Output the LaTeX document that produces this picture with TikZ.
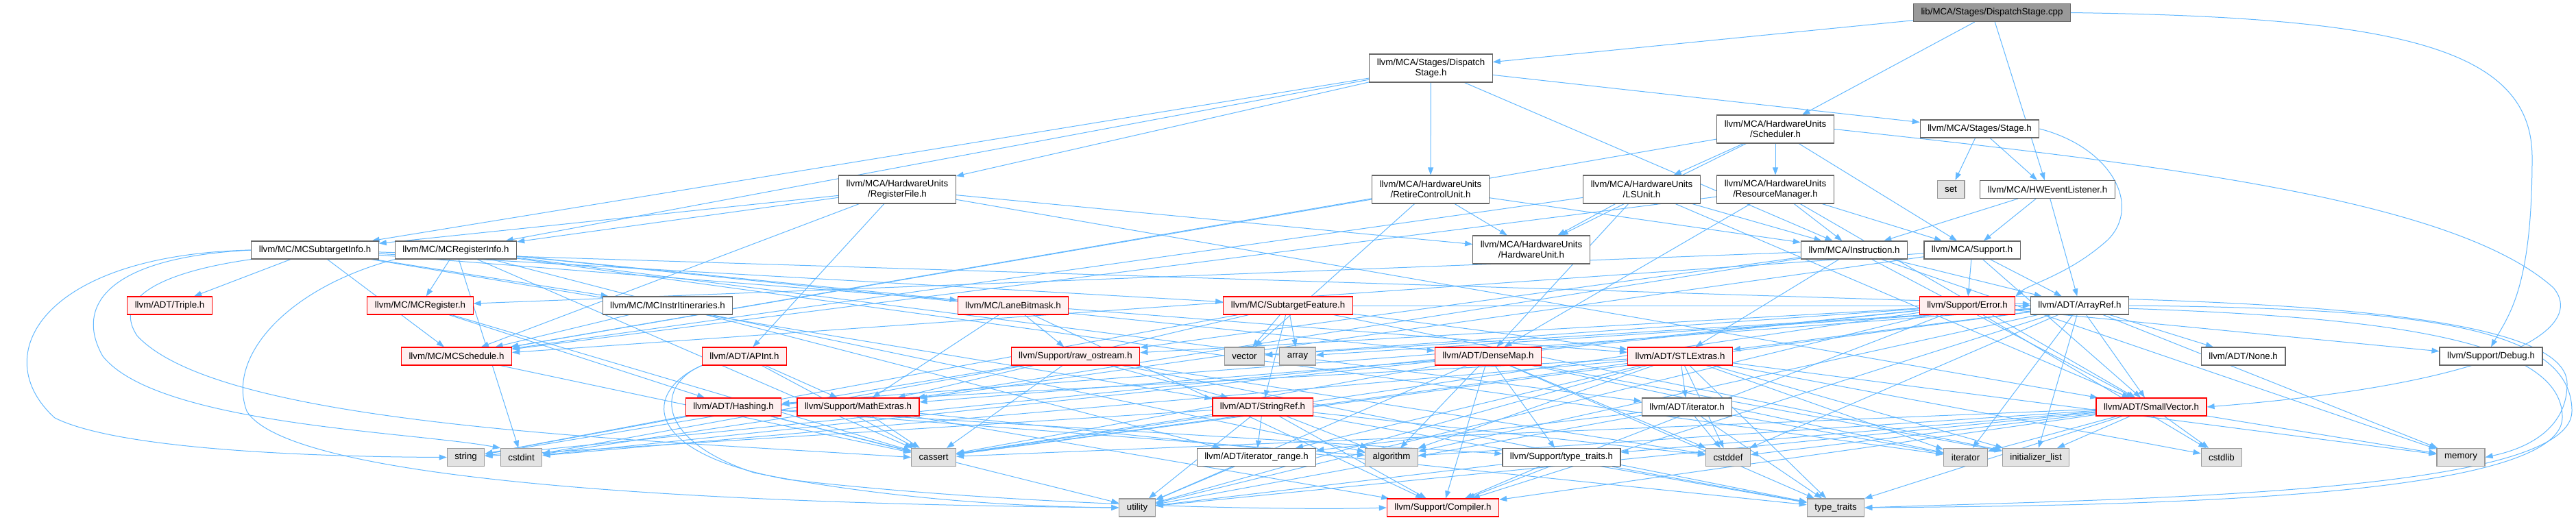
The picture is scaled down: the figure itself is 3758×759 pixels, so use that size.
\documentclass[tikz,border=0pt]{standalone}
\usepackage{fontspec}
\setmainfont{Liberation Sans}
\usetikzlibrary{arrows.meta}
\definecolor{edgeblue}{HTML}{63B8FF}
\definecolor{gfortyc}{HTML}{666666}
\definecolor{gsixtyc}{HTML}{999999}
\definecolor{geightyninec}{HTML}{E3E3E3}
\definecolor{redfillc}{HTML}{FFF0F0}
\pgfdeclarelayer{bg}
\pgfsetlayers{bg,main}
\begin{document}
\begin{tikzpicture}[x=1pt,y=-1pt,
  basebox/.style={draw, rectangle, inner xsep=11pt, inner ysep=2pt, minimum height=26pt,
    font=\fontsize{13.3}{15}\selectfont, line width=1.2pt, align=center, text=black},
  wn/.style={basebox, draw=gfortyc, fill=white},
  rn/.style={basebox, draw=red, fill=redfillc},
  sn/.style={basebox, draw=gsixtyc, fill=geightyninec},
  rootn/.style={basebox, draw=gfortyc, fill=gsixtyc},
  twoline/.style={minimum height=41pt},
  edge/.style={draw=edgeblue, line width=1pt, -{Triangle[length=11pt,width=8pt]}}
]
\useasboundingbox (0,0) rectangle (3758,759);

% rank 0
\node[rootn] (cpp) at (2906,18.5) {lib/MCA/Stages/DispatchStage.cpp};
% rank 1
\node[wn,twoline] (dsh) at (2087.5,99.5) {llvm/MCA/Stages/Dispatch\\Stage.h};
% rank 2
\node[wn,twoline] (sched) at (2590,188.5) {llvm/MCA/HardwareUnits\\/Scheduler.h};
\node[wn] (stage) at (2888,188) {llvm/MCA/Stages/Stage.h};
% rank 3
\node[wn,twoline] (rf) at (1309,276.5) {llvm/MCA/HardwareUnits\\/RegisterFile.h};
\node[wn,twoline] (rcu) at (2087,276.5) {llvm/MCA/HardwareUnits\\/RetireControlUnit.h};
\node[wn,twoline] (lsu) at (2395,276.5) {llvm/MCA/HardwareUnits\\/LSUnit.h};
\node[wn,twoline] (rm) at (2590,276.5) {llvm/MCA/HardwareUnits\\/ResourceManager.h};
\node[sn] (set) at (2846,276.5) {set};
\node[wn] (hwel) at (2987,276.5) {llvm/MCA/HWEventListener.h};
% rank 4
\node[wn] (msti) at (459.5,365) {llvm/MC/MCSubtargetInfo.h};
\node[wn] (mri) at (665,365) {llvm/MC/MCRegisterInfo.h};
\node[wn,twoline] (hwu) at (2234,364.5) {llvm/MCA/HardwareUnits\\/HardwareUnit.h};
\node[wn] (inst) at (2705,365) {llvm/MCA/Instruction.h};
\node[wn] (sup) at (2877,365) {llvm/MCA/Support.h};
% rank 5
\node[rn] (triple) at (247.5,446) {llvm/ADT/Triple.h};
\node[rn] (mreg) at (613,446) {llvm/MC/MCRegister.h};
\node[wn] (mii) at (974,446) {llvm/MC/MCInstrItineraries.h};
\node[rn] (lane) at (1478,446) {llvm/MC/LaneBitmask.h};
\node[rn] (stf) at (1879,446) {llvm/MC/SubtargetFeature.h};
\node[rn] (error) at (2870,446) {llvm/Support/Error.h};
\node[wn] (aref) at (3034,446) {llvm/ADT/ArrayRef.h};
% rank 6
\node[rn] (msch) at (666,520) {llvm/MC/MCSchedule.h};
\node[rn] (apint) at (1086,520) {llvm/ADT/APInt.h};
\node[rn] (raw) at (1569,520) {llvm/Support/raw\_ostream.h};
\node[sn] (vector) at (1815.5,520) {vector};
\node[sn] (array) at (1893,520) {array};
\node[rn] (dmap) at (2171,520) {llvm/ADT/DenseMap.h};
\node[rn] (stl) at (2451,520) {llvm/ADT/STLExtras.h};
\node[wn] (none) at (3272.6,520) {llvm/ADT/None.h};
\node[wn] (debug) at (3634,520) {llvm/Support/Debug.h};
% rank 7
\node[rn] (hash) at (1070,594) {llvm/ADT/Hashing.h};
\node[rn] (mathx) at (1252,594) {llvm/Support/MathExtras.h};
\node[rn] (sref) at (1842,594) {llvm/ADT/StringRef.h};
\node[wn] (iterh) at (2461,594) {llvm/ADT/iterator.h};
\node[rn] (svec) at (3138.5,594) {llvm/ADT/SmallVector.h};
% rank 8
\node[sn] (string) at (679.6,667.5) {string};
\node[sn] (cstdint) at (760.6,667.5) {cstdint};
\node[sn] (cassert) at (1362,667.5) {cassert};
\node[wn] (itr) at (1833,667.5) {llvm/ADT/iterator\_range.h};
\node[sn] (algorithm) at (2030,667.5) {algorithm};
\node[wn] (stt) at (2278,667.5) {llvm/Support/type\_traits.h};
\node[sn] (cstddef) at (2521,667.5) {cstddef};
\node[sn] (iterator) at (2867.5,667.5) {iterator};
\node[sn] (initl) at (2970,667.5) {initializer\_list};
\node[sn] (cstdlib) at (3241,667.5) {cstdlib};
\node[sn] (memory) at (3590,667.5) {memory};
% rank 9
\node[sn] (utility) at (1659,741) {utility};
\node[rn] (compiler) at (2105,741) {llvm/Support/Compiler.h};
\node[sn] (tt) at (2678,741) {type\_traits};

\begin{pgfonlayer}{bg}
\foreach \s/\t in {cpp/dsh, cpp/sched, cpp/hwel,
  dsh/msti, dsh/mri, dsh/rf, dsh/rcu, dsh/inst, dsh/stage,
  sched/msch, sched/hwu, sched/lsu, sched/rm, sched/sup,
  stage/hwel, stage/set,
  hwel/aref, hwel/inst, hwel/sup,
  rm/dmap, rm/svec, rm/msch, rm/inst, rm/sup,
  inst/aref, inst/stl, inst/svec, inst/mreg, inst/mathx, inst/raw, inst/memory,
  sup/aref, sup/svec, sup/msch, sup/error, sup/mathx,
  rcu/msch, rcu/hwu, rcu/inst, rcu/vector,
  lsu/dmap, lsu/svec, lsu/msch, lsu/hwu, lsu/inst,
  rf/apint, rf/svec, rf/mri, rf/msch, rf/msti, rf/hwu,
  msti/aref, msti/stl, msti/sref, msti/triple, msti/mii, msti/msch, msti/stf,
  mri/dmap, mri/iterh, mri/itr, mri/lane, mri/mreg, mri/cassert, mri/cstdint, mri/iterator,
  mreg/hash, mreg/cassert,
  mii/msch, mii/algorithm,
  msch/cassert,
  lane/compiler, lane/mathx, lane/raw,
  stf/aref, stf/stl, stf/sref, stf/mathx, stf/array, stf/initl, stf/string, stf/vector,
  apint/mathx, apint/cassert,
  hash/stt, hash/algorithm, hash/cassert, hash/string, hash/utility,
  mathx/compiler, mathx/cassert, mathx/cstdint, mathx/tt,
  raw/sref, raw/cassert, raw/cstddef, raw/cstdint, raw/string, raw/tt,
  sref/itr, sref/compiler, sref/algorithm, sref/cassert, sref/cstddef, sref/string, sref/tt, sref/utility,
  itr/utility,
  dmap/compiler, dmap/mathx, dmap/stt, dmap/algorithm, dmap/cassert, dmap/cstddef, dmap/initl, dmap/iterator, dmap/tt, dmap/utility,
  stl/hash, stl/iterh, stl/itr, stl/algorithm, stl/cassert, stl/cstddef, stl/cstdint, stl/cstdlib, stl/initl, stl/iterator, stl/memory, stl/tt, stl/utility,
  iterh/itr, iterh/cstddef, iterh/iterator, iterh/tt, iterh/utility,
  stt/compiler, stt/tt, stt/utility,
  error/compiler, error/debug, error/raw, error/cassert, error/cstdint, error/cstdlib, error/string, error/utility, error/vector,
  aref/hash, aref/none, aref/stl, aref/svec, aref/compiler, aref/algorithm, aref/array, aref/cassert, aref/cstddef, aref/initl, aref/iterator, aref/memory, aref/vector,
  svec/compiler, svec/stt, svec/algorithm, svec/cassert, svec/cstddef, svec/cstdlib, svec/initl, svec/iterator, svec/memory, svec/tt, svec/utility}
  {\draw[edge] (\s) -- (\t);}
% routed connectors
\draw[edge] (cpp.east) .. controls (3500,25) and (3694,70) .. (3694,230) .. controls (3694,420) and (3660,460) .. (debug.north);
\draw[edge] (sched.east) .. controls (3150,240) and (3580,290) .. (3725,420) .. controls (3775,480) and (3650,560) .. (svec.east);
\draw[edge] (stage.east) .. controls (3080,215) and (3125,300) .. (3075,350) .. controls (3020,400) and (2960,415) .. (error.north east);
\draw[edge] (msti.west) .. controls (60,372) and (-20,520) .. (80,610) .. controls (180,660) and (500,667) .. (string.west);
\draw[edge] (msti.west) .. controls (150,376) and (110,450) .. (150,520) .. controls (230,620) and (600,630) .. (cstdint.north west);
\draw[edge] (msti.south west) .. controls (250,395) and (160,430) .. (200,490) .. controls (320,620) and (900,640) .. (cassert.west);
\draw[edge] (mri.south west) .. controls (420,420) and (330,520) .. (360,600) .. controls (420,700) and (1000,735) .. (utility.west);
\draw[edge] (apint.south west) .. controls (960,560) and (950,640) .. (1100,690) .. controls (1300,730) and (1500,740) .. (utility.west);
\draw[edge] (apint.south west) .. controls (940,570) and (930,660) .. (1150,700) .. controls (1500,740) and (1900,745) .. (compiler.west);
\draw[edge] (error.east) .. controls (3400,455) and (3740,480) .. (3738,610) .. controls (3735,730) and (3100,738) .. (tt.east);
\draw[edge] (aref.east) .. controls (3500,450) and (3752,470) .. (3752,600) .. controls (3752,722) and (3100,728) .. (tt.east);
\draw[edge] (error.north east) .. controls (3300,440) and (3745,455) .. (3745,560) .. controls (3745,640) and (3660,660) .. (memory.east);
\end{pgfonlayer}
\end{tikzpicture}
\end{document}
